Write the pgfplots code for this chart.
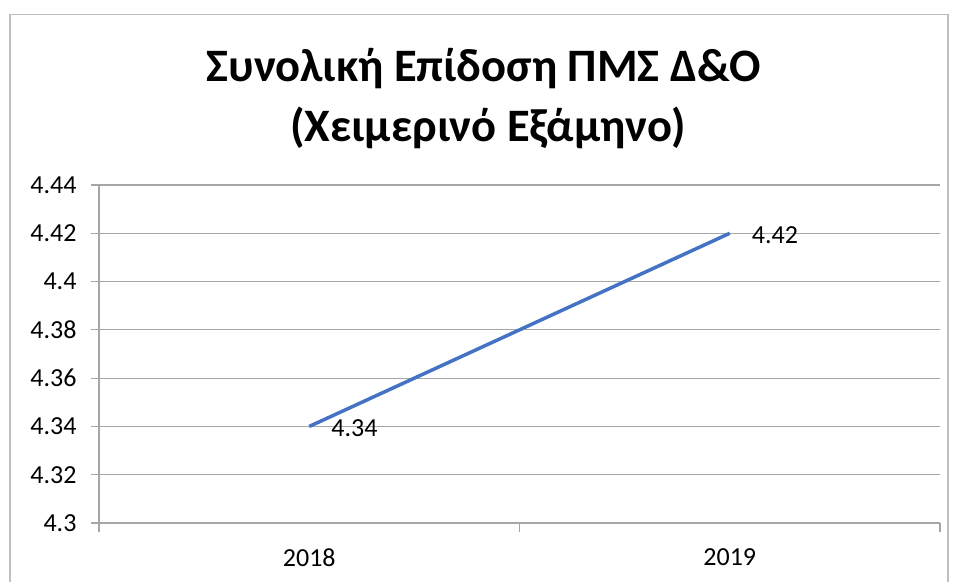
\documentclass[border=0pt]{standalone}
\usepackage{pgfplots}
\pgfplotsset{compat=1.18}
\usepackage{fontspec}
\setmainfont{Carlito}
\definecolor{xlblue}{HTML}{4472C4}
\definecolor{gridc}{HTML}{A6A6A6}
\definecolor{borderc}{HTML}{BFBFBF}
\begin{document}
\begin{tikzpicture}[x=1pt,y=1pt]
\path[use as bounding box] (0,0) rectangle (957,581);
\draw[borderc,line width=1.2pt] (10,-20) -- (10,566.5) -- (948,566.5) -- (948,-20);
\node[font=\fontsize{46.5}{56}\selectfont\bfseries,anchor=base,inner sep=0pt] at (484,499) {Συνολική Επίδοση ΠΜΣ Δ\&Ο};
\node[font=\fontsize{46.5}{56}\selectfont\bfseries,anchor=base,inner sep=0pt] at (488,439) {(Χειμερινό Εξάμηνο)};
\begin{axis}[
  at={(99pt,58pt)}, anchor=south west,
  scale only axis, width=841pt, height=338pt,
  xmin=0.5, xmax=2.5, ymin=4.3, ymax=4.44,
  axis x line=bottom, axis y line=left,
  axis line style={gridc,line width=1.2pt,-},
  xtick={1,2}, xticklabels={2018,2019},
  major x tick style={draw=none},
  minor xtick={0.5,1.5,2.5},
  minor x tick style={gridc,line width=1.2pt},
  minor tick length=9pt,
  ytick={4.3,4.32,...,4.441},
  ytick style={gridc,line width=1.2pt},
  major tick length=8pt,
  tick align=outside,
  ymajorgrids, grid style={gridc,line width=1.2pt},
  /pgf/number format/assume math mode=true,
  yticklabel={\pgfmathprintnumber[fixed,precision=2]{\tick}},
  ticklabel style={font=\fontsize{26}{30}\selectfont},
  yticklabel style={xshift=-11pt},
  xticklabel style={yshift=-14pt},
  clip=false,
]
\addplot[xlblue,line width=3.5pt,
  nodes near coords, point meta=explicit symbolic,
  every node near coord/.style={anchor=west,font=\fontsize{26}{30}\selectfont,black,xshift=17pt,yshift=-2pt}]
  table[meta=label] {
x y label
1 4.34 4.34
2 4.42 4.42
};
\end{axis}
\end{tikzpicture}
\end{document}
